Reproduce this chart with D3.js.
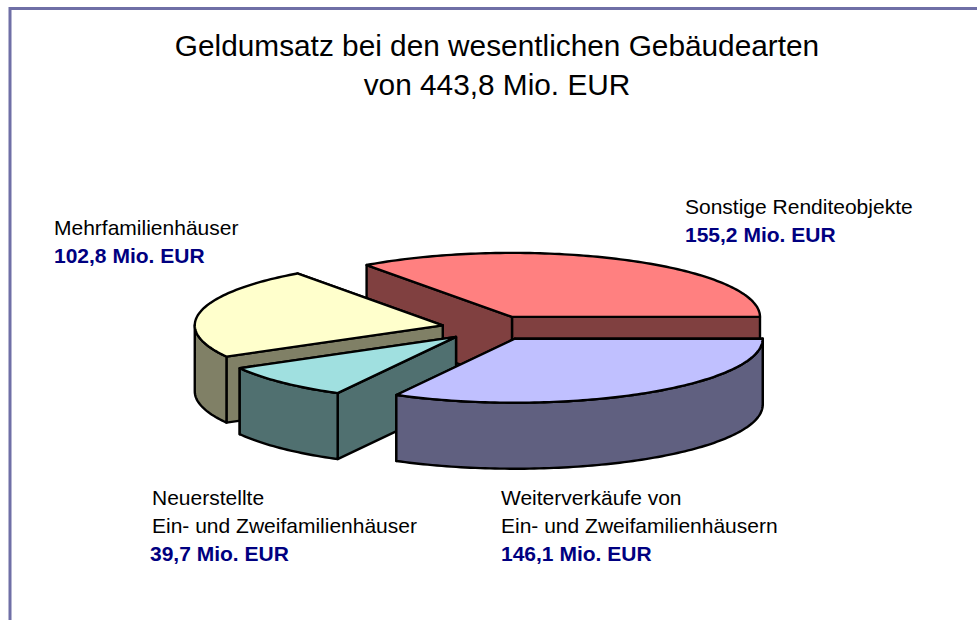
<!DOCTYPE html>
<html>
<head>
<meta charset="utf-8">
<script src="https://cdn.jsdelivr.net/npm/d3@7"></script>
<style>
    html, body { margin: 0; padding: 0; background: #fff; }
    svg { display: block; font-family: "Liberation Sans", Arial, sans-serif; }
</style>
</head>
<body>
<div id="chart"></div>
<script>
// values in Mio. EUR, clockwise from 3 o'clock
const categories = ["Weiterverkäufe", "Neuerstellte", "Mehrfamilienhäuser", "Sonstige"]
const values = [146.1, 39.7, 102.8, 155.2]
const labelLines = [
    ["Weiterverkäufe von", "Ein- und Zweifamilienhäusern"],
    ["Neuerstellte", "Ein- und Zweifamilienhäuser"],
    ["Mehrfamilienhäuser"],
    ["Sonstige Renditeobjekte"]
]
const titleLines = ["Geldumsatz bei den wesentlichen Gebäudearten", "von 443,8 Mio. EUR"]
const topColors = ["#c0c0ff", "#a0e0e0", "#ffffcc", "#ff8080"]
const sideColors = ["#606080", "#507070", "#808066", "#804040"]

const width = 977, height = 620
const depth = 66          // height of the pie
const explode = 0.195     // how far the slices are pulled out, in radii
const labelPos = [[501, 505], [152, 505], [54, 235], [685, 214]]
const lineGap = 28

const svg = d3.select("#chart").append("svg")
    .attr("width", width)
    .attr("height", height)

// frame, open on the right and at the bottom
svg.append("path")
    .attr("d", "M10,620V8.5H977")
    .attr("fill", "none")
    .attr("stroke", "#6f6fa6")
    .attr("stroke-width", 3)

svg.append("g").selectAll("text")
    .data(titleLines)
    .join("text")
    .attr("x", 497)
    .attr("y", (d, i) => 56 + i * 39)
    .attr("text-anchor", "middle")
    .attr("font-size", 29.8)
    .attr("fill", "#000")
    .text(d => d)

// unit circle -> squashed ellipse on the screen
const x = d3.scaleLinear().domain([-1, 1]).range([242, 738])
const y = d3.scaleLinear().domain([-1, 1]).range([264, 392])

const pie = d3.pie().sort(null)
    .startAngle(Math.PI / 2)
    .endAngle(Math.PI / 2 + 2 * Math.PI)
const slices = pie(values)

const line = d3.line().curve(d3.curveLinear)

function ring(a, ox, oy, dy) {
    return [x(ox + Math.sin(a)), y(oy - Math.cos(a)) + dy]
}

function arcPoints(a0, a1, ox, oy, dy) {
    const steps = Math.max(2, Math.ceil((a1 - a0) / 0.02))
    return d3.range(steps + 1).map(i => ring(a0 + (a1 - a0) * i / steps, ox, oy, dy))
}

function cutWall(a, ox, oy) {
    const apex = [x(ox), y(oy)]
    const rim = ring(a, ox, oy, 0)
    return [apex, rim, [rim[0], rim[1] + depth], [apex[0], apex[1] + depth]]
}

// back to front
const order = [3, 2, 1, 0]
order.forEach(i => {
    const s = slices[i]
    const mid = (s.startAngle + s.endAngle) / 2
    const ox = Math.sin(mid) * explode
    const oy = -Math.cos(mid) * explode
    const g = svg.append("g")
        .attr("stroke", "#000")
        .attr("stroke-width", 2.4)
        .attr("stroke-linejoin", "round")

    g.append("path").attr("fill", sideColors[i])
        .attr("d", line(cutWall(s.endAngle, ox, oy)) + "Z")
    g.append("path").attr("fill", sideColors[i])
        .attr("d", line(cutWall(s.startAngle, ox, oy)) + "Z")

    // outer wall only where the rim faces the viewer
    const a0 = Math.max(s.startAngle, Math.PI / 2)
    const a1 = Math.min(s.endAngle, 3 * Math.PI / 2)
    if (a1 > a0) {
        const wall = arcPoints(a0, a1, ox, oy, 0)
            .concat(arcPoints(a0, a1, ox, oy, depth).reverse())
        g.append("path").attr("fill", sideColors[i]).attr("d", line(wall) + "Z")
    }

    const top = [[x(ox), y(oy)]].concat(arcPoints(s.startAngle, s.endAngle, ox, oy, 0))
    g.append("path").attr("fill", topColors[i]).attr("d", line(top) + "Z")
})

// labels
slices.forEach((s, i) => {
    const g = svg.append("g").attr("font-size", 21)
    labelLines[i].forEach((t, k) => {
        g.append("text")
            .attr("x", labelPos[i][0])
            .attr("y", labelPos[i][1] + k * lineGap)
            .attr("fill", "#000")
            .text(t)
    })
    g.append("text")
        .attr("x", labelPos[i][0] - (i == 1 ? 2 : 0))
        .attr("y", labelPos[i][1] + labelLines[i].length * lineGap)
        .attr("fill", "#000080")
        .attr("font-weight", "bold")
        .text(d3.format(".1f")(s.value).replace(".", ",") + " Mio. EUR")
})
</script>
</body>
</html>
